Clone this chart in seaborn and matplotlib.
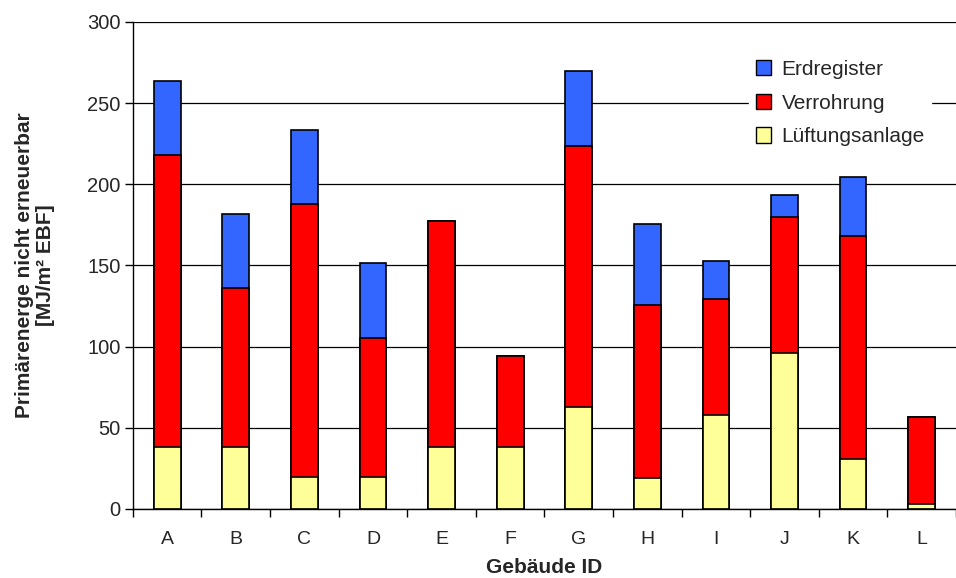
import seaborn as sns
import matplotlib.pyplot as plt
import matplotlib.patches as mpatches
import numpy as np
import pandas as pd

# data
gebaeude = ['A', 'B', 'C', 'D', 'E', 'F', 'G', 'H', 'I', 'J', 'K', 'L']
lueftung = [38, 38, 20, 20, 38, 38, 62.6, 19, 58, 96, 31, 3]
verrohrung = [180, 98, 168, 85.4, 139.2, 56.5, 160.8, 106.4, 71.1, 84, 137.4, 53.8]
erdregister = [45.6, 45.6, 45.6, 46.4, 0, 0, 46.2, 50.1, 23.6, 13.3, 36.1, 0]

c_erd = '#3366FF'
c_ver = '#FF0000'
c_lue = '#FFFF99'

sns.set_style("white")
plt.rcParams['font.family'] = ['Liberation Sans', 'DejaVu Sans']

df = pd.DataFrame({'Gebäude': gebaeude,
                   'Lüftungsanlage': lueftung,
                   'Verrohrung': verrohrung,
                   'Erdregister': erdregister})
df['s2'] = df['Lüftungsanlage'] + df['Verrohrung']
df['s3'] = df['s2'] + df['Erdregister']

fig = plt.figure(figsize=(9.56, 5.78), dpi=100)
ax = fig.add_axes([0.139, 0.1194, 0.861, 0.8426])

ax.yaxis.grid(True, color='black', linewidth=0.9)
ax.set_axisbelow(True)

kw = dict(x='Gebäude', order=gebaeude, width=0.39, edgecolor='black',
          linewidth=1.2, saturation=1, ax=ax)
sns.barplot(data=df, y='s3', color=c_erd, **kw)
sns.barplot(data=df, y='s2', color=c_ver, **kw)
sns.barplot(data=df, y='Lüftungsanlage', color=c_lue, **kw)

ax.set_ylim(0, 300)
ax.set_xlim(-0.5, len(gebaeude) - 0.5)
ax.set_yticks(range(0, 301, 50))
ax.tick_params(axis='y', labelsize=14.5, length=6, width=1, color='black',
               direction='out', left=True, pad=3)
ax.tick_params(axis='x', which='major', labelsize=14, length=0, pad=16)
ax.set_xticks(np.arange(-0.5, len(gebaeude), 1), minor=True)
ax.tick_params(axis='x', which='minor', length=6, width=1, color='black',
               direction='out', bottom=True)

for s in ['top', 'right']:
    ax.spines[s].set_visible(False)
for s in ['left', 'bottom']:
    ax.spines[s].set_color('black')
    ax.spines[s].set_linewidth(1)

ax.set_xlabel('Gebäude ID', fontsize=15, fontweight='bold', labelpad=7)
ax.set_ylabel('Primärenerge nicht erneuerbar\n[MJ/m² EBF]', fontsize=15,
              fontweight='bold', labelpad=23, linespacing=1.1)

handles = [mpatches.Patch(facecolor=c_erd, edgecolor='black', label='Erdregister'),
           mpatches.Patch(facecolor=c_ver, edgecolor='black', label='Verrohrung'),
           mpatches.Patch(facecolor=c_lue, edgecolor='black', label='Lüftungsanlage')]
leg = ax.legend(handles=handles, loc='upper right', bbox_to_anchor=(0.985, 0.925),
                bbox_transform=fig.transFigure, fontsize=15, frameon=True,
                fancybox=False, edgecolor='white', framealpha=1,
                handlelength=0.75, handleheight=0.75, handletextpad=0.5,
                labelspacing=0.7, borderpad=0.3)

fig.savefig('out.png', dpi=100)
